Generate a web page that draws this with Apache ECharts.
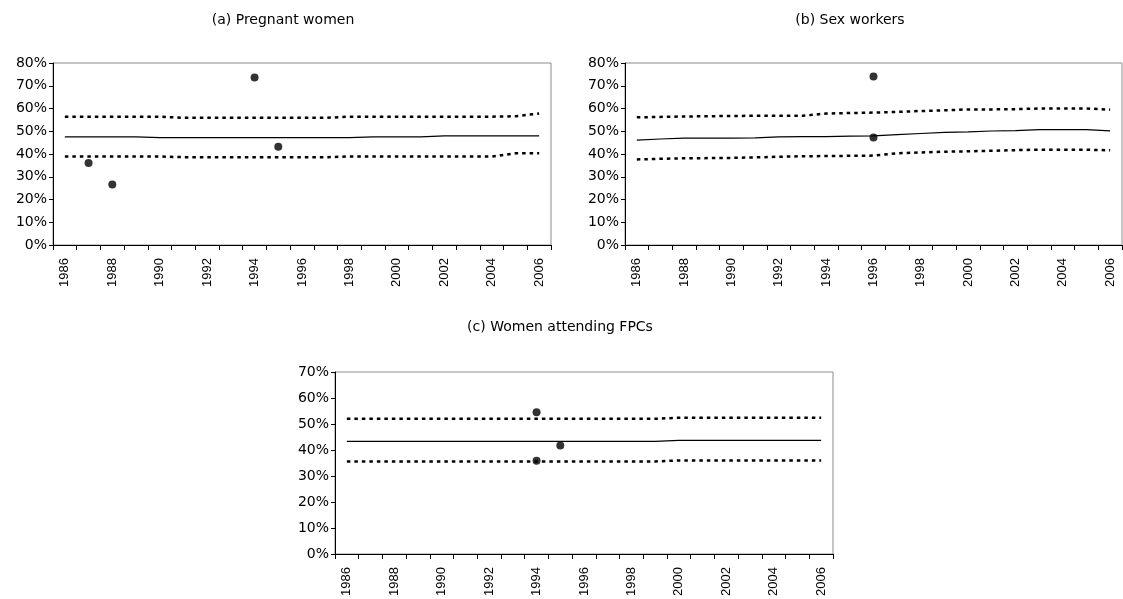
<!DOCTYPE html>
<html>
<head>
<meta charset="utf-8">
<script src="https://cdn.jsdelivr.net/npm/echarts@6/dist/echarts.min.js"></script>
<style>
html,body{margin:0;padding:0;background:#fff;}
#chart{width:1123px;height:599px;}
</style>
</head>
<body>
<div id="chart"></div>
<script>
const years = ['1986','1987','1988','1989','1990','1991','1992','1993','1994','1995','1996','1997','1998','1999','2000','2001','2002','2003','2004','2005','2006'];

const panelTitles = ['(a) Pregnant women', '(b) Sex workers', '(c) Women attending FPCs'];

// (a) Pregnant women
const aMean  = [47.5,47.5,47.5,47.5,47.2,47.2,47.2,47.2,47.2,47.2,47.2,47.2,47.2,47.5,47.5,47.5,48.0,48.0,48.0,48.0,48.0];
const aUpper = [56.4,56.4,56.4,56.4,56.4,55.9,55.9,55.9,55.9,55.9,55.9,55.9,56.4,56.4,56.4,56.4,56.4,56.4,56.4,56.6,57.8];
const aLower = [38.9,38.9,38.9,38.9,38.9,38.6,38.6,38.6,38.6,38.6,38.6,38.6,38.9,38.9,38.9,38.9,38.9,38.9,38.9,40.3,40.3];
const aObsYears  = ['1987','1988','1994','1995'];
const aObsValues = [36.0, 26.6, 73.6, 43.2];

// (b) Sex workers
const bMean  = [46.1,46.6,47.0,47.0,47.0,47.1,47.5,47.6,47.6,47.9,48.0,48.5,49.0,49.5,49.7,50.1,50.3,50.7,50.7,50.7,50.2];
const bUpper = [56.1,56.3,56.5,56.6,56.7,56.8,56.8,56.8,57.8,58.0,58.2,58.5,58.9,59.2,59.6,59.6,59.7,60.0,60.0,60.0,59.5];
const bLower = [37.6,37.9,38.1,38.2,38.3,38.5,38.8,39.0,39.1,39.2,39.3,40.3,40.7,41.0,41.2,41.4,41.7,41.9,41.9,41.9,41.6];
const bObsYears  = ['1996','1996'];
const bObsValues = [74.1, 47.3];

// (c) Women attending FPCs
const cMean  = [43.3,43.3,43.3,43.3,43.3,43.3,43.3,43.3,43.3,43.3,43.3,43.3,43.3,43.3,43.7,43.7,43.7,43.7,43.7,43.7,43.7];
const cUpper = [52.0,52.0,52.0,52.0,52.0,52.0,52.0,52.0,52.0,52.0,52.0,52.0,52.0,52.0,52.4,52.4,52.4,52.4,52.4,52.4,52.4];
const cLower = [35.6,35.6,35.6,35.6,35.6,35.6,35.6,35.6,35.6,35.6,35.6,35.6,35.6,35.6,36.0,36.0,36.0,36.0,36.0,36.0,36.0];
const cObsYears  = ['1994','1994','1995'];
const cObsValues = [54.5, 35.9, 41.7];

const yMaxA = 80, yMaxB = 80, yMaxC = 70, yStep = 10;

const FONT_X = '"Liberation Sans", Arial, sans-serif';
const FONT_WIDE = '"DejaVu Sans", "Liberation Sans", Arial, sans-serif';

const grids = [
  {left: 53, top: 63, width: 498, height: 182},
  {left: 625, top: 63, width: 497, height: 182},
  {left: 335, top: 372, width: 498, height: 182}
].map(g => Object.assign(g, {show: true, borderColor: '#8c8c8c', borderWidth: 1, backgroundColor: '#fff'}));

function xAxis(i) {
  return {
    type: 'category', gridIndex: i, data: years, boundaryGap: true,
    axisLine: {show: true, lineStyle: {color: '#000', width: 1}},
    axisTick: {show: true, interval: 0, length: 5, lineStyle: {color: '#000'}},
    axisLabel: {interval: 1, rotate: 90, color: '#000', fontFamily: FONT_X, fontSize: 13, margin: 13},
    splitLine: {show: false}
  };
}
function yAxis(i, max) {
  return {
    type: 'value', gridIndex: i, min: 0, max: max, interval: yStep,
    axisLine: {show: true, lineStyle: {color: '#000', width: 1}},
    axisTick: {show: true, length: 4, lineStyle: {color: '#000'}},
    axisLabel: {formatter: '{value}%', color: '#000', fontFamily: FONT_WIDE, fontSize: 14, margin: 6},
    splitLine: {show: false}
  };
}
function lineSeries(i, data, dotted) {
  return {
    type: 'line', xAxisIndex: i, yAxisIndex: i, data: data, symbol: 'none', silent: true,
    lineStyle: dotted ? {color: '#000', width: 2.5, type: [3.5, 4]} : {color: '#000', width: 1.2},
    z: 2
  };
}
function pointSeries(i, ys, vs) {
  return {
    type: 'scatter', xAxisIndex: i, yAxisIndex: i,
    data: ys.map((y, k) => [y, vs[k]]),
    symbol: 'circle', symbolSize: 8, itemStyle: {color: '#000'}, z: 3
  };
}

const titlePos = [[283, 20], [850, 20], [560, 327]];

const option = {
  animation: false,
  backgroundColor: '#fff',
  grid: grids,
  xAxis: [xAxis(0), xAxis(1), xAxis(2)],
  yAxis: [yAxis(0, yMaxA), yAxis(1, yMaxB), yAxis(2, yMaxC)],
  graphic: panelTitles.map((t, k) => ({
    type: 'text', x: titlePos[k][0], y: titlePos[k][1],
    style: {text: t, fill: '#000', font: '14px ' + FONT_WIDE, textAlign: 'center', textVerticalAlign: 'middle'}
  })),
  series: [
    lineSeries(0, aMean, false), lineSeries(0, aUpper, true), lineSeries(0, aLower, true), pointSeries(0, aObsYears, aObsValues),
    lineSeries(1, bMean, false), lineSeries(1, bUpper, true), lineSeries(1, bLower, true), pointSeries(1, bObsYears, bObsValues),
    lineSeries(2, cMean, false), lineSeries(2, cUpper, true), lineSeries(2, cLower, true), pointSeries(2, cObsYears, cObsValues)
  ]
};

const chart = echarts.init(document.getElementById('chart'), null, {renderer: 'canvas'});
chart.setOption(option);
</script>
</body>
</html>
